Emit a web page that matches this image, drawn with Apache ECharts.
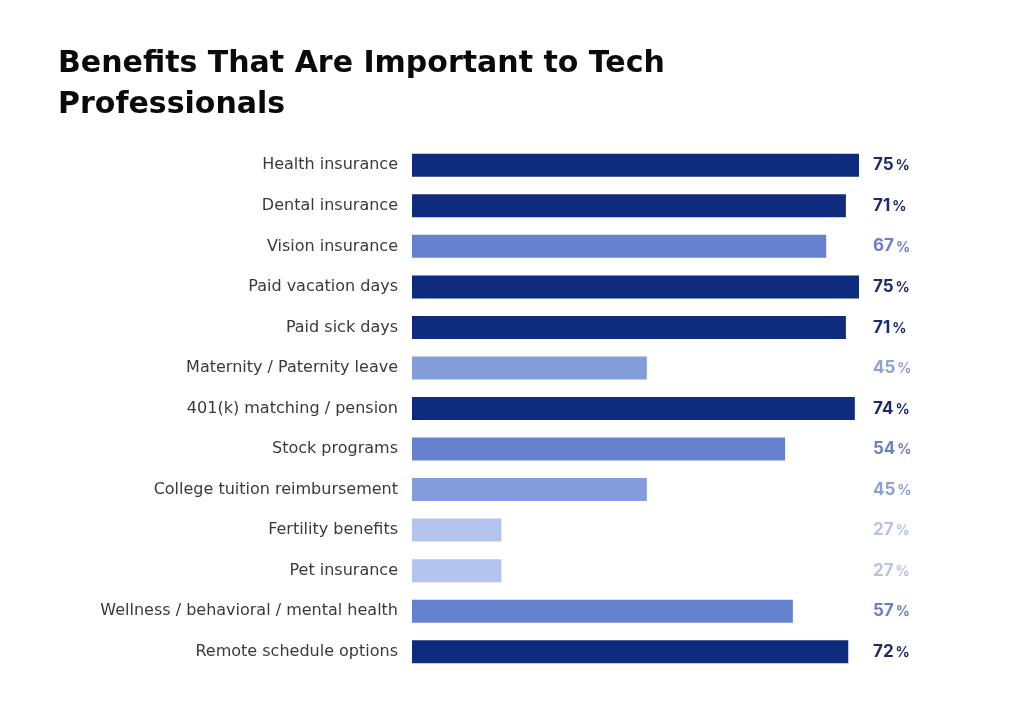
<!DOCTYPE html>
<html>
<head>
<meta charset="utf-8">
<script src="https://cdn.jsdelivr.net/npm/echarts@6/dist/echarts.min.js"></script>
<style>
  html, body { margin: 0; padding: 0; background: #fff; }
  #chart { width: 1024px; height: 715px; }
</style>
</head>
<body>
<div id="chart"></div>
<script>
// categories, top to bottom
var categories = ['Health insurance', 'Dental insurance', 'Vision insurance', 'Paid vacation days',
    'Paid sick days', 'Maternity / Paternity leave', '401(k) matching / pension', 'Stock programs',
    'College tuition reimbursement', 'Fertility benefits', 'Pet insurance',
    'Wellness / behavioral / mental health', 'Remote schedule options'];
// printed percentages
var pct = [75, 71, 67, 75, 71, 45, 74, 54, 45, 27, 27, 57, 72];
// bar lengths as drawn in the source (read on a 0-75 scale, not always equal to the printed %)
var barLength = [75, 72.8, 69.5, 75, 72.8, 39.4, 74.3, 62.6, 39.4, 15, 15, 63.9, 73.2];
// colour tier of each row
var tier = [0, 0, 1, 0, 0, 2, 0, 1, 2, 3, 3, 1, 0];

var barColors = ['#0f2b7d', '#6682cf', '#829dda', '#b3c4ef'];
var textColors = ['#1b2a6b', '#6a7fc4', '#8aa0d8', '#b8c2e6'];

var rich = {};
textColors.forEach(function (c, i) {
    rich['n' + i] = { color: c, fontSize: 17, fontWeight: 'bold', fontFamily: 'Inter' };
    rich['p' + i] = { color: c, fontSize: 14, fontWeight: 'bold', fontFamily: 'Inter', padding: [2, 0, 0, 2] };
});

var option = {
    backgroundColor: '#fff',
    animation: false,
    title: {
        text: 'Benefits That Are Important to Tech\nProfessionals',
        left: 53,
        top: 39,
        textStyle: {
            fontFamily: 'DejaVu Sans',
            fontSize: 30,
            fontWeight: 'bold',
            lineHeight: 41,
            color: '#0a0a0a'
        }
    },
    grid: { left: 412, right: 165, top: 145, bottom: 43 },
    xAxis: {
        type: 'value',
        min: 0,
        max: 75,
        show: false
    },
    yAxis: [{
        type: 'category',
        data: categories,
        inverse: true,
        axisLine: { show: false },
        axisTick: { show: false },
        axisLabel: {
            margin: 14,
            fontFamily: 'DejaVu Sans',
            fontSize: 16,
            color: '#3a3a3a',
            padding: [3, 0, 0, 0]
        }
    }, {
        type: 'category',
        data: categories,
        inverse: true,
        position: 'right',
        axisLine: { show: false },
        axisTick: { show: false },
        axisLabel: {
            margin: 14,
            align: 'left',
            rich: rich,
            formatter: function (v, i) {
                var t = tier[i];
                return '{n' + t + '|' + pct[i] + '}{p' + t + '|%}';
            }
        }
    }],
    series: [{
        type: 'bar',
        barWidth: 23,
        data: barLength.map(function (v, i) {
            return { value: v, itemStyle: { color: barColors[tier[i]] } };
        })
    }]
};

var myChart = echarts.init(document.getElementById('chart'));
myChart.setOption(option);
</script>
</body>
</html>
